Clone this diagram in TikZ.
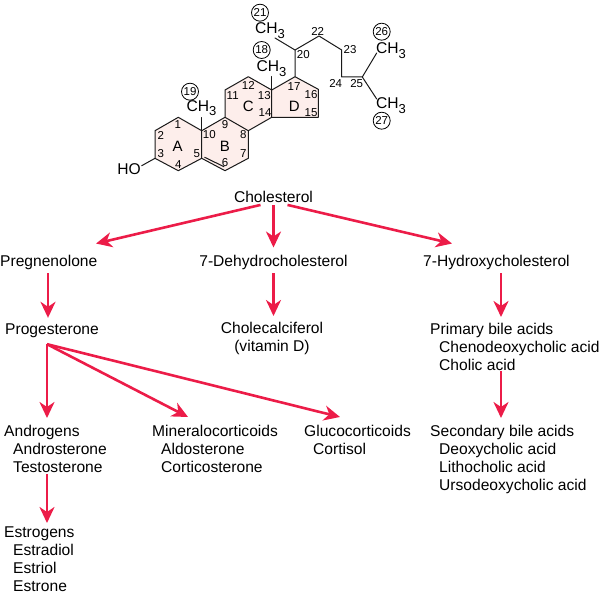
\documentclass[tikz,border=0pt]{standalone}
\usepackage{fontspec}
\setmainfont{Liberation Sans}
\usetikzlibrary{arrows.meta,calc}
\definecolor{arrred}{RGB}{236,28,72}
\definecolor{ringpink}{RGB}{253,238,235}
\newcommand{\methyl}{CH\raisebox{-0.28em}{\fontsize{13}{13}\selectfont 3}}
\tikzset{
  x=1pt,y=-1pt,
  lbl/.style={inner sep=0pt,font=\fontsize{15.6}{18}\selectfont,align=left},
  ctr/.style={lbl,align=center},
  num/.style={inner sep=0pt,font=\fontsize{11.5}{12}\selectfont},
  ringl/.style={inner sep=0pt,font=\fontsize{15}{15}\selectfont},
  chg/.style={inner sep=0pt,font=\fontsize{15.6}{15}\selectfont},
  circ/.style={draw=black,circle,line width=0.8pt,minimum size=17pt,inner sep=0pt,font=\fontsize{11.5}{12}\selectfont},
  bond/.style={line width=1pt,line join=round,line cap=round,draw=black!90},
  ring/.style={fill=ringpink,draw=none},
  arr/.style={draw=arrred,line width=2.6pt,-{Stealth[length=16pt,width=15pt,inset=5pt]}},
}
\newcommand{\ind}{\hspace*{9pt}}
\begin{document}
\begin{tikzpicture}
\useasboundingbox (0,0) rectangle (600,594);
% carbon positions
\coordinate (c1) at (178.3,117.3);
\coordinate (c2) at (155,130.7);
\coordinate (c3) at (155,158.3);
\coordinate (c4) at (178.3,170.7);
\coordinate (c5) at (201.7,158.3);
\coordinate (c6) at (225,170.7);
\coordinate (c7) at (248.3,158.3);
\coordinate (c8) at (248.3,130.7);
\coordinate (c9) at (225,117.3);
\coordinate (c10) at (201.7,130.7);
\coordinate (c11) at (225,90);
\coordinate (c12) at (248.3,76.7);
\coordinate (c13) at (271.7,90);
\coordinate (c14) at (271.7,117.3);
\coordinate (c15) at (318.3,117.3);
\coordinate (c16) at (318.3,89.3);
\coordinate (c17) at (295,76.7);
\coordinate (c20) at (295,50);
\coordinate (c21) at (275,38);
\coordinate (c22) at (319,36);
\coordinate (c23) at (341.7,50);
\coordinate (c24) at (341.7,77);
\coordinate (c25) at (362.3,77);
\coordinate (c26) at (376.7,53);
\coordinate (c27) at (376.7,99);
\coordinate (m19) at (201.7,117.5);
\coordinate (m18) at (271.7,76.5);
\coordinate (oh) at (141.7,165.7);
% ring fills
\fill[ring] (c1)--(c2)--(c3)--(c4)--(c5)--(c10)--cycle;
\fill[ring] (c5)--(c6)--(c7)--(c8)--(c9)--(c10)--cycle;
\fill[ring] (c9)--(c11)--(c12)--(c13)--(c14)--(c8)--cycle;
\fill[ring] (c13)--(c17)--(c16)--(c15)--(c14)--cycle;
% bonds
\draw[bond] (c1)--(c2)--(c3)--(c4)--(c5)--(c10)--cycle;
\draw[bond] (c5)--(c6)--(c7)--(c8)--(c9)--(c10);
\draw[bond] (c9)--(c11)--(c12)--(c13)--(c14)--(c8);
\draw[bond] (c13)--(c17)--(c16)--(c15)--(c14);
\draw[bond] (c17)--(c20)--(c22)--(c23)--(c24)--(c25)--(c26);
\draw[bond] (c25)--(c27);
\draw[bond] (c20)--(c21);
\draw[bond] (c10)--(m19);
\draw[bond] (c13)--(m18);
\draw[bond] (c3)--(oh);
\draw[bond] ($(c5)+(3,-1)$) -- ($(c6)+(-1,-4)$);
% ring position numbers
\node[num] (n1) at (177.7,125) {1};
\node[num] (n2) at (160.7,135) {2};
\node[num] (n3) at (160.7,154) {3};
\node[num] (n4) at (178.3,165) {4};
\node[num] (n5) at (196.7,154) {5};
\node[num] (n6) at (225,162.7) {6};
\node[num] (n7) at (243.3,153.3) {7};
\node[num] (n8) at (243.3,135) {8};
\node[num] (n9) at (225,125) {9};
\node[num] (n10) at (209.3,135) {10};
\node[num] (n11) at (232.7,95.7) {11};
\node[num] (n12) at (248.3,85.7) {12};
\node[num] (n13) at (264.3,95.7) {13};
\node[num] (n14) at (265,112.7) {14};
\node[num] (n15) at (311,112.3) {15};
\node[num] (n16) at (311,95) {16};
\node[num] (n17) at (294,86.7) {17};
\node[num] (n20) at (303.3,55) {20};
\node[num] (n22) at (317.7,31) {22};
\node[num] (n23) at (350,50) {23};
\node[num] (n24) at (335.7,83.3) {24};
\node[num] (n25) at (356.7,83.3) {25};
\node[ringl] (ra) at (177.7,146) {A};
\node[ringl] (rb) at (225,146) {B};
\node[ringl] (rc) at (248.3,106) {C};
\node[ringl] (rd) at (294.3,106) {D};
\node[chg] (ho) at (129,169.5) {HO};
\node[chg] (ch19) at (201.5,108) {\methyl};
\node[chg] (ch18) at (271.5,68.5) {\methyl};
\node[chg] (ch21) at (270,30.5) {\methyl};
\node[chg] (ch26) at (391,50.5) {\methyl};
\node[chg] (ch27) at (391,105.5) {\methyl};
\node[circ] (k19) at (190,91.7) {19};
\node[circ] (k18) at (261.7,50) {18};
\node[circ] (k21) at (260,12.7) {21};
\node[circ] (k26) at (381.7,31.7) {26};
\node[circ] (k27) at (381.7,120.7) {27};
% pathway
\node[ctr] (chol) at (273.5,197) {Cholesterol};
\node[lbl,anchor=west] (preg) at (0,262) {Pregnenolone};
\node[ctr] (dehy) at (273.5,262) {7-Dehydrocholesterol};
\node[lbl,anchor=west] (hydr) at (423,262) {7-Hydroxycholesterol};
\node[lbl,anchor=west] (prog) at (5,331) {Progesterone};
\node[ctr,anchor=north] (calc) at (272,322) {Cholecalciferol\\(vitamin D)};
\node[lbl,anchor=north west] (prim) at (430,323) {Primary bile acids\\\ind Chenodeoxycholic acid\\\ind Cholic acid};
\node[lbl,anchor=north west] (andr) at (4,425) {Androgens\\\ind Androsterone\\\ind Testosterone};
\node[lbl,anchor=north west] (mine) at (152,425) {Mineralocorticoids\\\ind Aldosterone\\\ind Corticosterone};
\node[lbl,anchor=north west] (gluc) at (304,425) {Glucocorticoids\\\ind Cortisol};
\node[lbl,anchor=north west] (seco) at (430,425) {Secondary bile acids\\\ind Deoxycholic acid\\\ind Lithocholic acid\\\ind Ursodeoxycholic acid};
\node[lbl,anchor=north west] (estr) at (4,527) {Estrogens\\\ind Estradiol\\\ind Estriol\\\ind Estrone};
% arrows
\draw[arr] ([xshift=-13pt,yshift=-2pt]chol.south) -- ([xshift=96pt,yshift=11pt]preg.north west);
\draw[arr] ([yshift=-2pt]chol.south) -- ([yshift=7pt]dehy.north);
\draw[arr] ([xshift=14pt,yshift=-2pt]chol.south) -- ([xshift=29pt,yshift=11pt]hydr.north west);
\draw[arr] ([xshift=48pt,yshift=-4pt]preg.south west) -- ([xshift=43pt,yshift=6pt]prog.north west);
\draw[arr] ([yshift=-4pt]dehy.south) -- ([xshift=1.5pt,yshift=6pt]calc.north);
\draw[arr] ([xshift=78pt,yshift=-4pt]hydr.south west) -- ([xshift=71pt,yshift=6pt]prim.north west);
\draw[arr] ([xshift=42pt,yshift=-6pt]prog.south west) -- ([xshift=43pt,yshift=7pt]andr.north west);
\draw[arr] ([xshift=42pt,yshift=-6pt]prog.south west) -- ([xshift=36pt,yshift=8pt]mine.north west);
\draw[arr] ([xshift=42pt,yshift=-6pt]prog.south west) -- ([xshift=36pt,yshift=8pt]gluc.north west);
\draw[arr] ([xshift=43pt,yshift=-1pt]andr.south west) -- ([xshift=43pt,yshift=4pt]estr.north west);
\draw[arr] ([xshift=71pt,yshift=0pt]prim.south west) -- ([xshift=71pt,yshift=7pt]seco.north west);
\end{tikzpicture}
\end{document}
